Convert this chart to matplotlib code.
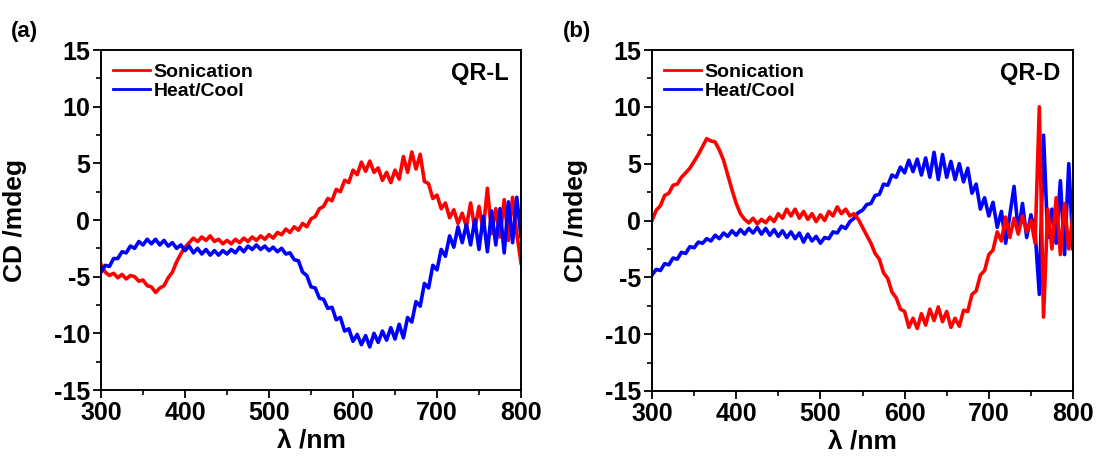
import numpy as np
import matplotlib.pyplot as plt
from matplotlib.ticker import MultipleLocator

plt.rcParams['font.family'] = ['Liberation Sans', 'DejaVu Sans']
plt.rcParams['font.weight'] = 'bold'
plt.rcParams['axes.unicode_minus'] = False

# wavelength grid, 5 nm steps
wl = np.arange(300, 801, 5)

# QR-L (noise included)
qrl_sonication = [
    -3.9, -4.6, -4.9, -4.7, -5.1, -4.8, -5.2, -4.9, -5.0, -5.4,
    -5.3, -5.8, -5.9, -6.4, -6.0, -5.8, -5.1, -4.6, -3.7, -3.0,
    -2.4, -2.0, -1.6, -1.9, -1.5, -1.8, -1.4, -1.9, -1.7, -2.1,
    -1.8, -2.1, -1.7, -2.0, -1.6, -1.9, -1.5, -1.8, -1.4, -1.7,
    -1.3, -1.6, -1.1, -1.3, -0.8, -1.1, -0.6, -0.9, -0.3, -0.6,
    0.1, 0.3, 1.0, 1.2, 1.9, 1.7, 2.7, 2.5, 3.5, 3.3,
    4.4, 4.0, 5.1, 4.3, 5.2, 4.2, 4.6, 3.5, 4.2, 3.3,
    4.4, 3.6, 5.6, 4.2, 6.0, 4.5, 5.8, 3.4, 3.2, 1.9,
    2.2, 1.0, 1.5, 0.2, 0.9, -0.3, 0.6, -0.6, 1.5, -0.8,
    1.2, -0.9, 2.8, -1.2, 1.0, -1.5, 1.8, -1.8, 2.0, -1.2,
    -3.8,
]
qrl_heatcool = [
    -4.6, -4.0, -4.1, -3.4, -3.4, -2.8, -2.9, -2.3, -2.5, -1.9,
    -2.2, -1.7, -2.1, -1.7, -2.2, -1.8, -2.3, -2.0, -2.5, -2.2,
    -2.7, -2.3, -2.9, -2.5, -3.0, -2.6, -3.1, -2.7, -3.1, -2.7,
    -3.0, -2.6, -2.9, -2.4, -2.8, -2.3, -2.6, -2.2, -2.6, -2.3,
    -2.7, -2.4, -2.8, -2.5, -3.0, -2.9, -3.5, -3.6, -4.6, -4.9,
    -5.9, -6.0, -6.9, -7.0, -7.8, -7.7, -8.8, -8.6, -9.8, -9.6,
    -10.7, -10.1, -11.0, -10.2, -11.2, -10.0, -10.8, -9.8, -10.6, -9.5,
    -10.5, -9.2, -10.4, -8.6, -9.0, -7.2, -7.6, -5.6, -6.0, -4.0,
    -4.4, -2.6, -3.2, -1.4, -2.4, -0.6, -2.0, -0.4, -2.2, 0.0,
    -2.6, 0.3, -2.8, 0.8, -2.2, 1.0, -2.9, 1.6, -2.0, 2.0,
    -1.5,
]

# QR-D
qrd_sonication = [
    0.0, 0.9, 1.3, 2.2, 2.4, 3.1, 3.2, 3.8, 4.2, 4.6,
    5.2, 5.8, 6.5, 7.2, 7.0, 6.9, 6.2, 5.3, 4.0, 2.7,
    1.5, 0.6, 0.1, -0.2, 0.2, -0.3, 0.1, -0.2, 0.3, -0.1,
    0.6, 0.2, 1.0, 0.4, 1.0, 0.2, 0.8, 0.1, 0.6, -0.1,
    0.5, 0.0, 0.8, 0.4, 1.2, 0.6, 1.0, 0.4, 0.6, 0.1,
    -0.6, -1.3, -2.0, -2.9, -3.4, -4.6, -5.1, -6.3, -6.8, -7.8,
    -8.0, -9.4, -8.6, -9.5, -8.2, -9.2, -7.8, -8.8, -7.6, -8.9,
    -8.0, -9.4, -8.6, -9.3, -7.9, -8.0, -6.5, -6.2, -4.8, -4.4,
    -3.0, -2.6, -1.0, -1.8, 0.3, -1.5, 0.2, -1.2, 0.4, -1.0,
    0.0, -2.0, 10.0, -8.5, 1.0, -2.5, 2.0, -3.0, 1.5, -2.5,
    0.5,
]
qrd_heatcool = [
    -4.8, -4.3, -4.4, -3.8, -3.9, -3.3, -3.4, -2.8, -2.9, -2.3,
    -2.4, -1.9, -2.0, -1.6, -1.8, -1.3, -1.6, -1.1, -1.4, -0.9,
    -1.3, -0.8, -1.2, -0.7, -1.1, -0.6, -1.2, -0.7, -1.3, -0.8,
    -1.4, -0.9, -1.5, -1.0, -1.6, -1.1, -1.9, -1.2, -1.8, -1.4,
    -2.0, -1.5, -1.6, -1.0, -1.1, -0.5, -0.7, -0.1, 0.2, 0.7,
    0.9, 1.4, 1.5, 2.2, 2.3, 3.2, 3.1, 4.0, 3.8, 4.7,
    4.2, 5.3, 4.3, 5.4, 4.0, 5.5, 3.8, 6.0, 3.6, 5.8,
    3.8, 5.2, 3.6, 5.0, 3.4, 4.6, 2.4, 3.2, 1.0, 2.0,
    0.4, 1.6, -0.6, 0.8, -2.0, 0.5, 3.0, -1.0, 1.5, -1.5,
    0.5, -1.0, -6.5, 7.5, -1.5, 1.0, -2.0, 3.5, -3.0, 5.0,
    -2.5,
]

panels = [
    ('(a)', 'QR-L', qrl_sonication, qrl_heatcool, [101, 390, 420, 340], -0.176, 11),
    ('(b)', 'QR-D', qrd_sonication, qrd_heatcool, [652, 391, 421, 341], -0.152, 563),
]

W, H = 1098, 459
fig = plt.figure(figsize=(W / 100, H / 100), dpi=100)

for i, (tag, name, son, hc, box, ylab_x, tag_x) in enumerate(panels):
    x0, yb, w, h = box
    ax = fig.add_axes([x0 / W, 1 - yb / H, w / W, h / H])
    if i == 0:
        l1, = ax.plot(wl, son, color='#ff0000', lw=2.6, label='Sonication')
        l2, = ax.plot(wl, hc, color='#0000ff', lw=2.6, label='Heat/Cool')
    else:
        l2, = ax.plot(wl, hc, color='#0000ff', lw=2.6, label='Heat/Cool')
        l1, = ax.plot(wl, son, color='#ff0000', lw=2.6, label='Sonication')

    ax.set_xlim(300, 800)
    ax.set_ylim(-15, 15)
    ax.xaxis.set_major_locator(MultipleLocator(100))
    ax.xaxis.set_minor_locator(MultipleLocator(50))
    ax.yaxis.set_major_locator(MultipleLocator(5))
    ax.yaxis.set_minor_locator(MultipleLocator(2.5))
    ax.tick_params(which='major', direction='out', length=6, width=1.3, labelsize=18, pad=2)
    ax.tick_params(which='minor', direction='out', length=3.5, width=1.2)
    for s in ax.spines.values():
        s.set_linewidth(1.4)
    for lab in ax.get_xticklabels() + ax.get_yticklabels():
        lab.set_fontweight('bold')

    ax.set_xlabel('λ /nm', fontsize=19, fontweight='bold')
    ax.xaxis.set_label_coords(0.5, -0.112)
    ax.set_ylabel('CD /mdeg', fontsize=19, fontweight='bold')
    ax.yaxis.set_label_coords(ylab_x, 0.5)

    leg = ax.legend(handles=[l1, l2], loc='upper left', frameon=False,
                    prop={'weight': 'bold', 'size': 14}, handlelength=1.9,
                    handletextpad=0.2, labelspacing=0.05,
                    borderaxespad=0.2, bbox_to_anchor=(0.0, 0.995))
    for ln in leg.get_lines():
        ln.set_linewidth(2)

    ax.text(0.97, 0.93, name, transform=ax.transAxes, ha='right', va='center',
            fontsize=17, fontweight='bold')
    fig.text(tag_x / W, 1 - 31 / H, tag, fontsize=16, fontweight='bold',
             ha='left', va='center')

fig.savefig('out.png', dpi=100)
